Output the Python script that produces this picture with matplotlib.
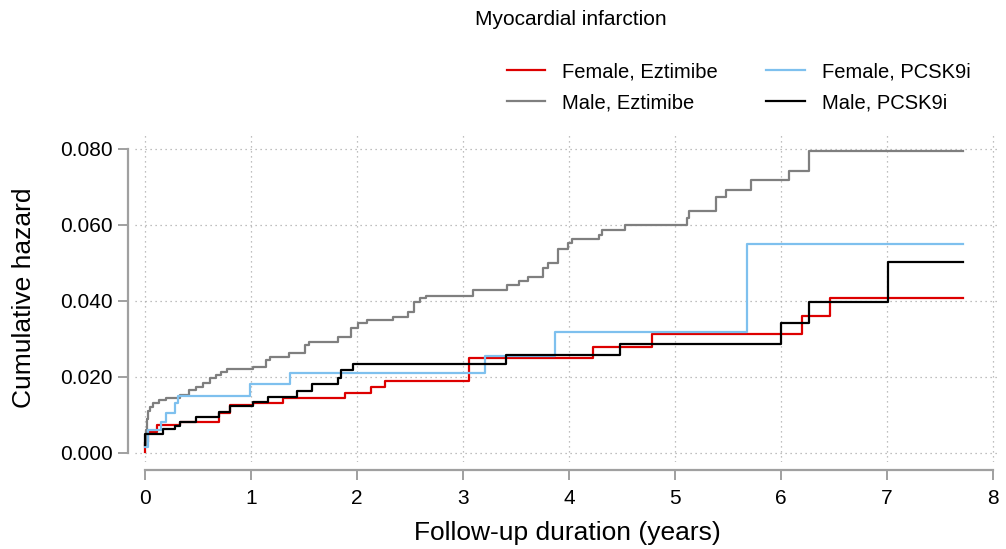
import matplotlib
matplotlib.use("Agg")
import matplotlib.pyplot as plt

plt.rcParams['font.family'] = ['Liberation Sans', 'DejaVu Sans']

# cumulative hazard step curves (time in years, hazard)
fe_time = [0, 0.005, 0.03, 0.11, 0.33, 0.70, 0.80, 1.02, 1.30, 1.89, 2.13, 2.26, 3.06, 4.23, 4.78, 6.20, 6.46, 7.72]
fe_haz = [0.0003, 0.003, 0.0056, 0.0074, 0.0082, 0.0104, 0.0126, 0.0131, 0.0144, 0.0157, 0.0174, 0.0190, 0.0250, 0.0278, 0.0313, 0.0361, 0.0409, 0.0409]

fp_time = [0, 0.03, 0.15, 0.20, 0.28, 0.31, 0.99, 1.37, 3.21, 3.87, 5.68, 7.72]
fp_haz = [0.0017, 0.006, 0.0082, 0.0104, 0.0131, 0.0151, 0.0181, 0.0211, 0.0256, 0.0319, 0.0550, 0.0550]

me_time = [0, 0.01, 0.02, 0.03, 0.05, 0.074, 0.137, 0.20, 0.326, 0.42, 0.48, 0.546, 0.61, 0.67, 0.72, 0.77,
           1.02, 1.14, 1.18, 1.36, 1.51, 1.55, 1.82, 1.94, 2.01, 2.09, 2.34, 2.48, 2.54, 2.59, 2.655,
           3.095, 3.416, 3.53, 3.615, 3.756, 3.80, 3.90, 3.99, 4.025, 4.285, 4.31, 4.53, 5.11, 5.135,
           5.39, 5.48, 5.72, 6.08, 6.26, 7.72]
me_haz = [0.002, 0.006, 0.009, 0.011, 0.012, 0.0131, 0.0139, 0.0144, 0.0153, 0.0166, 0.0174, 0.0183, 0.0196, 0.0205, 0.0214, 0.0220,
          0.0227, 0.0245, 0.0253, 0.0262, 0.0284, 0.0293, 0.0306, 0.0328, 0.0341, 0.0350, 0.0359, 0.0372, 0.0398, 0.0407, 0.0413,
          0.0430, 0.0442, 0.0453, 0.0464, 0.0488, 0.0500, 0.0538, 0.0552, 0.0563, 0.0573, 0.0588, 0.0601, 0.0617, 0.0637,
          0.0674, 0.0692, 0.0718, 0.0742, 0.0794, 0.0794]

mp_time = [0, 0.005, 0.17, 0.28, 0.33, 0.48, 0.70, 0.80, 1.02, 1.16, 1.43, 1.58, 1.82, 1.85, 1.96, 3.41, 4.48, 6.00, 6.26, 7.01, 7.72]
mp_haz = [0.0021, 0.0050, 0.0062, 0.0071, 0.0082, 0.0095, 0.0109, 0.0124, 0.0135, 0.0148, 0.0164, 0.0181, 0.0196, 0.0218, 0.0233, 0.0257, 0.0287, 0.0343, 0.0398, 0.0502, 0.0502]

x_ticks = [0, 1, 2, 3, 4, 5, 6, 7, 8]
y_ticks = [0.0, 0.02, 0.04, 0.06, 0.08]
y_ticklabels = ["0.000", "0.020", "0.040", "0.060", "0.080"]

fig = plt.figure(figsize=(10.06, 5.49), dpi=100)
ax = fig.add_axes([0.1342, 0.1585, 0.8598, 0.5993])

ax.step(fe_time, fe_haz, where='post', color='#dd0000', lw=1.6, label='Female, Eztimibe')
ax.step(me_time, me_haz, where='post', color='#7f7f7f', lw=1.6, label='Male, Eztimibe')
ax.step(fp_time, fp_haz, where='post', color='#7ec0ee', lw=1.6, label='Female, PCSK9i')
ax.step(mp_time, mp_haz, where='post', color='black', lw=1.6, label='Male, PCSK9i')

ax.set_xlim(-0.094, 8.066)
ax.set_ylim(-0.00237, 0.0842)
ax.set_xticks(x_ticks)
ax.set_yticks(y_ticks)
ax.set_yticklabels(y_ticklabels)
ax.grid(True, linestyle=(0, (1, 3)), color='#aaaaaa', lw=0.9)

for s in ['top', 'right']:
    ax.spines[s].set_visible(False)
ax.spines['left'].set_bounds(0, 0.08)
ax.spines['left'].set_position(('outward', 5))
ax.spines['bottom'].set_bounds(0, 8)
ax.spines['bottom'].set_position(('outward', 6))
for s in ['left', 'bottom']:
    ax.spines[s].set_color('#a0a0a0')
    ax.spines[s].set_linewidth(1.6)
ax.tick_params(axis='both', colors='#a0a0a0', width=1.4, length=7.5, labelsize=15, labelcolor='black')
ax.tick_params(axis='x', pad=6)
ax.tick_params(axis='y', pad=3.5)

ax.set_xlabel("Follow-up duration (years)", fontsize=19, labelpad=9)
ax.set_ylabel("Cumulative hazard", fontsize=19, labelpad=17)

fig.text(0.5676, 0.965, "Myocardial infarction", fontsize=15, ha='center', va='center')
ax.legend(loc='upper left', bbox_to_anchor=(0.504, 0.887), bbox_transform=fig.transFigure,
          ncol=2, frameon=False, fontsize=14.5, handlelength=1.9, handletextpad=0.85,
          columnspacing=2.4, labelspacing=0.6, borderpad=0, borderaxespad=0)

fig.savefig("out.png", dpi=100)
